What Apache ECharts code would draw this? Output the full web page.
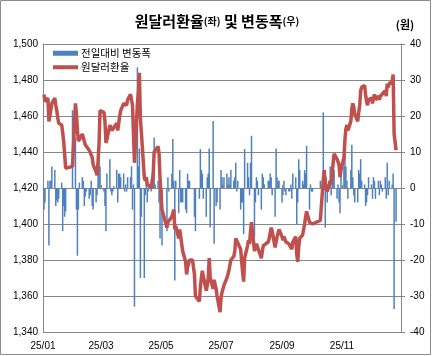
<!DOCTYPE html>
<html><head><meta charset="utf-8">
<script src="https://cdn.jsdelivr.net/npm/echarts@6/dist/echarts.min.js"></script>
<style>html,body{margin:0;padding:0;background:#fff}#c{width:434px;height:356px}</style>
</head><body><div id="c"></div><script>
// trading dates (2025, M/D)
const dates = [
'1/2','1/3','1/6','1/7','1/8','1/9','1/10','1/13','1/14','1/15','1/16','1/17','1/20','1/21','1/22','1/23','1/24','1/31',
'2/3','2/4','2/5','2/6','2/7','2/10','2/11','2/12','2/13','2/14','2/17','2/18','2/19','2/20','2/21','2/24','2/25','2/26','2/27','2/28',
'3/4','3/5','3/6','3/7','3/10','3/11','3/12','3/13','3/14','3/17','3/18','3/19','3/20','3/21','3/24','3/25','3/26','3/27','3/28','3/31',
'4/1','4/2','4/3','4/4','4/7','4/8','4/9','4/10','4/11','4/14','4/15','4/16','4/17','4/18','4/21','4/22','4/23','4/24','4/25','4/28','4/29','4/30',
'5/2','5/7','5/8','5/9','5/12','5/13','5/14','5/15','5/16','5/19','5/20','5/21','5/22','5/23','5/26','5/27','5/28','5/29','5/30',
'6/2','6/4','6/5','6/9','6/10','6/11','6/12','6/13','6/16','6/17','6/18','6/19','6/20','6/23','6/24','6/25','6/26','6/27','6/30',
'7/1','7/2','7/3','7/4','7/7','7/8','7/9','7/10','7/11','7/14','7/15','7/16','7/17','7/18','7/21','7/22','7/23','7/24','7/25','7/28','7/29','7/30','7/31',
'8/1','8/4','8/5','8/6','8/7','8/8','8/11','8/12','8/13','8/14','8/18','8/19','8/20','8/21','8/22','8/25','8/26','8/27','8/28','8/29',
'9/1','9/2','9/3','9/4','9/5','9/8','9/9','9/10','9/11','9/12','9/15','9/16','9/17','9/18','9/19','9/22','9/23','9/24','9/25','9/26','9/29','9/30',
'10/1','10/2','10/10','10/13','10/14','10/15','10/16','10/17','10/20','10/21','10/22','10/23','10/24','10/27','10/28','10/29','10/30','10/31',
'11/3','11/4','11/5','11/6','11/7','11/10','11/11','11/12','11/13','11/14','11/17','11/18','11/19','11/20','11/21','11/24','11/25','11/26','11/27','11/28',
'12/1','12/2','12/3','12/4','12/5','12/8','12/9','12/10','12/11','12/12','12/15','12/16','12/17','12/18','12/19','12/22','12/23','12/24','12/26'
];
// 원달러환율 (left axis)
const rate = [
1472,1468,1470,1457,1460,1461,1467,1470,1466,1463,1459,1456,1455,1451,1446,1439,1431,1432,
1467,1461,1452,1446,1447,1450,1451,1446,1444,1443,1441,1440,1441,1437,1433,1429,1427,1435,1445,1463,
1462,1457,1445,1447,1455,1454,1452,1451,1451,1456,1452,1456,1460,1463,1467,1466,1467,1466,1469,1472,
1472,1466,1467,1434,1467,1473,1484,1459,1451,1426,1424,1426,1422,1421,1420,1424,1427,1440,1441,1443,1439,1425,
1408,1398,1401,1400,1404,1406,1408,1397,1399,1392,1397,1393,1389,1385,1379,1372,1376,1378,1380,
1380,1372,1360,1357,1365,1370,1374,1371,1363,1366,1370,1381,1370,1364,1369,1369,1364,1360,1351,
1359,1362,1363,1366,1370,1371,1374,1375,1380,1382,1385,1392,1391,1393,1386,1379,1373,1368,1381,1388,1391,1389,1396,
1401,1385,1387,1389,1390,1388,1381,1385,1388,1388,1390,1392,1395,1398,1396,1387,1390,1393,1395,1397,
1393,1391,1393,1392,1390,1389,1388,1389,1386,1390,1393,1383,1379,1387,1392,1394,1395,1400,1404,1407,1401,1402,
1401,1400,1402,1425,1430,1419,1422,1418,1424,1422,1428,1434,1439,1436,1437,1433,1426,1430,
1437,1447,1453,1455,1452,1457,1464,1467,1465,1461,1457,1462,1466,1474,1476,1477,1472,1468,1466,1469,
1470,1467,1470,1472,1469,1471,1469,1471,1472,1471,1474,1471,1478,1476,1478,1479,1483,1450,1441
];
// 전일대비 변동폭 (right axis)
const change = [
-6,-4,2,-16,2,2,6,5,-5,-3.5,-4,-3,1.5,-12,-5,-8,-6.5,21.6,
14,-6,-18.8,-6,1.5,3,2,-5,-2.4,-1,-3,-2,2,-5,-6,-4,-2,6,8,6,
-1,-5,-12,4,8,-1,-2,-1,0.5,5,-4,4,4,3,4,-1,1,-1,3,3,
6,-6,1,-33,33.5,6,11,-25,-8,-25,-2,2,-4,-1,-1,4,3,14,1,2,-4,-14,
-16,-12,3,-1,4,13.6,2,-25.7,2,-7,5,-4,-4,-4,-6,-7,4,2,2,
0,-8,-12,-3,10.8,5,4,-3,-8,3,4,11,-11,18.6,-15.5,0,-5,-4,-6,
5,3,1,3,4,1,3,1,5,2,3,7,-1,2,-6,-4,-4,-12.8,10.8,7,3,-2,7,
14.5,-13.7,-4,3,2,-2,-6,4,3,1,2,2,4,3,-2,-8,11,3,2,2,
-4,-2,2,-1,-2,-1,-1,1,-3,4,3,-10,-4,8,5,2,1,5,4,11.7,-6,1,
-1,-1,2,21,3,-11,3,-4,6,-2,6,6,5,-3,1,-4,-7,4,
6,10,6,2,-3,5,12,3,-2,-4,-4,5,4,8,2,1,-5,-4,-2,3,
1,-3,3,2,-3,2,-2,2,1,-1,3,-3,7,-2,2,1,4,-33.6,-9.4
];
const tickDates = ['1/1','3/1','5/1','7/1','9/1','11/1'];
const tickLabels = ['25/01','25/03','25/05','25/07','25/09','25/11'];
const seriesNames = ['전일대비 변동폭','원달러환율'];

// day-of-year index (Jan 1 = 0)
const toDay = s => { const p = s.split('/').map(Number); return Math.round((Date.UTC(2025, p[0]-1, p[1]) - Date.UTC(2025, 0, 1)) / 86400000); };
const days = dates.map(toDay);
const tickDays = tickDates.map(toDay);
const NUM = '"Liberation Sans", Arial, sans-serif';
const KR = '"Noto Sans CJK KR", sans-serif';
const GRAY = '#868686';
const BLUE = '#4F81BD', RED = '#C0504D';

const chart = echarts.init(document.getElementById('c'), null, {renderer:'canvas'});
chart.setOption({
  animation: false,
  title: {
    text: '{a|원달러환율}{b|(좌)}{a| 및 변동폭}{b|(우)}',
    left: 'center', top: 9,
    textStyle: { rich: {
      a: {fontSize: 15, fontWeight: 'bold', fontFamily: KR, color: '#000'},
      b: {fontSize: 10, fontWeight: 'bold', fontFamily: KR, color: '#000'}
    }}
  },
  legend: [
    {data: [{name: seriesNames[0], icon: 'rect'}], left: 53, top: 48, padding: 0,
     itemWidth: 25, itemHeight: 5, selectedMode: false,
     textStyle: {fontSize: 10.5, fontFamily: KR, color: '#000', padding: [0,0,0,-2]}},
    {data: [{name: seriesNames[1], icon: 'rect', itemStyle: {color: RED}}], left: 53, top: 62, padding: 0,
     itemWidth: 25, itemHeight: 4, selectedMode: false,
     textStyle: {fontSize: 10.5, fontFamily: KR, color: '#000', padding: [0,0,0,-2]}}
  ],
  grid: {left: 43, right: 33, top: 44, bottom: 24},
  xAxis: {
    type: 'value',
    min: toDay('1/1'), max: toDay('12/31'),
    axisLine: {lineStyle: {color: GRAY}},
    axisTick: {show: true, inside: true, length: 3, customValues: tickDays, lineStyle: {color: GRAY}},
    axisLabel: {customValues: tickDays, fontSize: 10, fontFamily: NUM, color: '#000', margin: 9,
      formatter: v => { const i = tickDays.indexOf(v); return i >= 0 ? tickLabels[i] : ''; }},
    splitLine: {show: false}
  },
  yAxis: [
    {type: 'value', min: 1340, max: 1500, interval: 20,
     axisLine: {show: true, lineStyle: {color: GRAY}},
     axisTick: {show: false},
     axisLabel: {fontSize: 10, fontFamily: NUM, color: '#000', margin: 5,
       formatter: v => String(v).replace(/\B(?=(\d{3})+(?!\d))/g, ',')},
     splitLine: {show: true, lineStyle: {color: GRAY, width: 1}}},
    {type: 'value', min: -40, max: 40, interval: 10, position: 'right',
     name: '(원)', nameLocation: 'end', nameGap: 14,
     nameTextStyle: {fontSize: 11, fontWeight: 'bold', fontFamily: KR, color: '#000', align: 'center', padding: [0,0,0,8]},
     axisLine: {show: true, lineStyle: {color: GRAY}},
     axisTick: {show: true, length: 4, lineStyle: {color: GRAY}},
     axisLabel: {fontSize: 10, fontFamily: NUM, color: '#000', margin: 9},
     splitLine: {show: false}}
  ],
  series: [
    {name: seriesNames[0], type: 'bar', yAxisIndex: 1, barWidth: 1.5,
     itemStyle: {color: BLUE},
     data: days.map((d, i) => [d, change[i]])},
    {name: seriesNames[1], type: 'line', yAxisIndex: 0, symbol: 'none',
     lineStyle: {width: 3.5, color: RED}, itemStyle: {color: RED},
     data: days.map((d, i) => [d, rate[i]])}
  ],
  graphic: [{type: 'rect', silent: true, shape: {x: 0.5, y: 0.5, width: 430, height: 354},
    style: {fill: 'none', stroke: '#8c8c8c', lineWidth: 1}}]
});
</script></body></html>
